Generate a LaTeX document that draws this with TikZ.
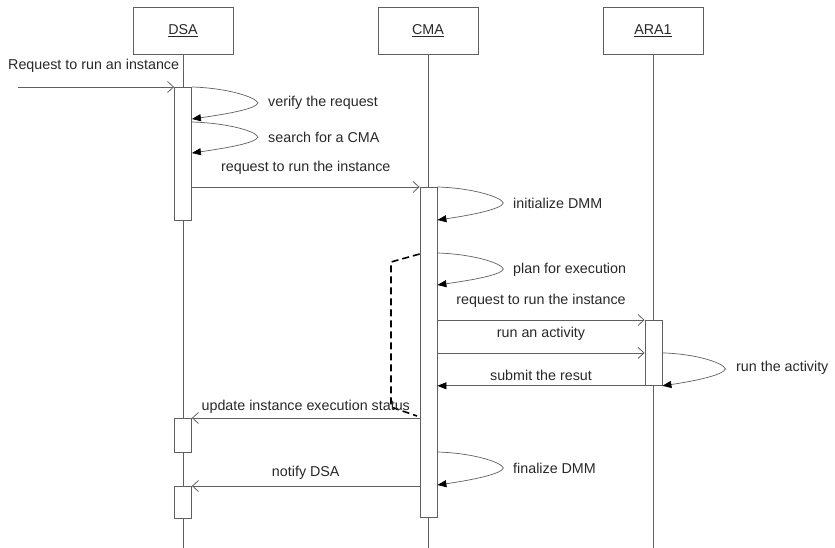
\documentclass[tikz,border=0pt]{standalone}
\usepackage{fontspec}
\setmainfont{Liberation Sans}
\usetikzlibrary{arrows.meta,calc,positioning}
\definecolor{wire}{RGB}{95,95,95}
\definecolor{ink}{RGB}{40,40,40}

\begin{document}
\begin{tikzpicture}[
    x=1pt, y=-1pt,
    font=\fontsize{14.3}{17}\selectfont, text=ink,
    head/.style={draw=wire, line width=0.9pt, minimum width=100pt, minimum height=47pt, anchor=north},
    bar/.style={draw=wire, line width=0.8pt, fill=white, minimum width=17pt, inner sep=0pt, anchor=north},
    life/.style={wire, line width=0.9pt},
    call/.style={wire, line width=0.8pt, -{Straight Barb[length=6pt,width=11pt]}},
    reply/.style={wire, line width=0.8pt, -{Triangle[length=9pt,width=7pt,color=black]}},
    selfloop/.style={wire, line width=0.7pt, -{Triangle[length=9pt,width=7pt,color=black]}},
    lbl/.style={inner sep=1pt, text=ink}
]
    \useasboundingbox (0,0) rectangle (835,548);

    % Header boxes
    \node[head] (dsa) at (183,7) {\underline{DSA}};
    \node[head] (cma) at (428,7) {\underline{CMA}};
    \node[head] (ara) at (653,7) {\underline{ARA1}};

    % Lifelines
    \coordinate (dsaEnd) at (183,548);
    \coordinate (cmaEnd) at (428.5,548);
    \coordinate (araEnd) at (653.5,548);
    \draw[life] (dsa.south) -- (dsaEnd);
    \draw[life] (cma.south -| cmaEnd) -- (cmaEnd);
    \draw[life] (ara.south -| araEnd) -- (araEnd);

    % Activation bars
    \node[bar, minimum height=133pt] (dsaA) at (183,87) {};
    \node[bar, minimum height=330pt] (cmaA) at (428.5,187) {};
    \node[bar, minimum height=65pt] (araA) at (653.5,320) {};
    \node[bar, minimum height=34pt] (dsaB) at (183,418) {};
    \node[bar, minimum height=32pt] (dsaC) at (183,486) {};

    % Incoming request
    \coordinate (src) at (18,87);
    \draw[call] (src) -- (dsaA.north west);
    \node[lbl, anchor=west] (reqIn) at (7,66) {Request to run an instance};

    % DSA self calls
    \draw[selfloop] (dsaA.north east) .. controls +(35,1) and +(-2,-6) .. ++(66,16)
        .. controls +(-2,6) and +(35,-5) .. ([yshift=-32pt]dsaA.north east);
    \node[lbl, anchor=west] (verifyL) at (267,103) {verify the request};
    \draw[selfloop] ([yshift=-35pt]dsaA.north east) .. controls +(35,1) and +(-2,-6) .. ++(66,15)
        .. controls +(-2,6) and +(35,-5) .. ([yshift=-66pt]dsaA.north east);
    \node[lbl, anchor=west] (searchL) at (267,137) {search for a CMA};

    % DSA -> CMA
    \draw[call] (dsaA.east |- cmaA.north west) -- node[lbl, above=11pt] (runL) {request to run the instance} (cmaA.north west);

    % CMA self calls
    \draw[selfloop] (cmaA.north east) .. controls +(35,1) and +(-2,-6) .. ++(66,16)
        .. controls +(-2,6) and +(35,-5) .. ([yshift=-33pt]cmaA.north east);
    \node[lbl, anchor=west] (initL) at (512,203) {initialize DMM};
    \draw[selfloop] ([yshift=-66pt]cmaA.north east) .. controls +(35,1) and +(-2,-6) .. ++(66,16)
        .. controls +(-2,6) and +(35,-5) .. ([yshift=-98pt]cmaA.north east);
    \node[lbl, anchor=west] (planL) at (512,270) {plan for execution};

    % Dashed note line
    \coordinate (bend1) at (391,262);
    \coordinate (bend2) at (391,407);
    \coordinate (bend3) at (417,416);
    \draw[black, line width=1.6pt, dash pattern=on 7pt off 4pt]
        ([yshift=-67pt]cmaA.north west) -- (bend1) -- (bend2) -- (bend3);

    % CMA <-> ARA1
    \draw[call] (cmaA.east |- araA.north west) -- node[lbl, above=11pt] (reqAra) {request to run the instance} (araA.north west);
    \draw[call] (cmaA.east |- araA.west) -- node[lbl, above=11pt] (actL) {run an activity} (araA.west);
    \draw[selfloop] (araA.east) .. controls +(34,1) and +(-2,-6) .. ++(63,16)
        .. controls +(-2,6) and +(34,-5) .. (araA.south east);
    \node[lbl, anchor=west] (runActL) at (735,368) {run the activity};
    \draw[reply] (araA.south west) -- node[lbl, above=4pt] (subL) {submit the resut} (cmaA.east |- araA.south west);

    % CMA -> DSA
    \draw[call] (cmaA.west |- dsaB.north) -- node[lbl, above=3pt] (updL) {update instance execution status} (dsaB.north east);
    \draw[selfloop] ([yshift=-265pt]cmaA.north east) .. controls +(35,1) and +(-2,-6) .. ++(66,16)
        .. controls +(-2,6) and +(35,-5) .. ([yshift=-298pt]cmaA.north east);
    \node[lbl, anchor=west] (finL) at (512,468) {finalize DMM};
    \draw[call] (cmaA.west |- dsaC.north) -- node[lbl, above=5pt] (notL) {notify DSA} (dsaC.north east);
\end{tikzpicture}
\end{document}
